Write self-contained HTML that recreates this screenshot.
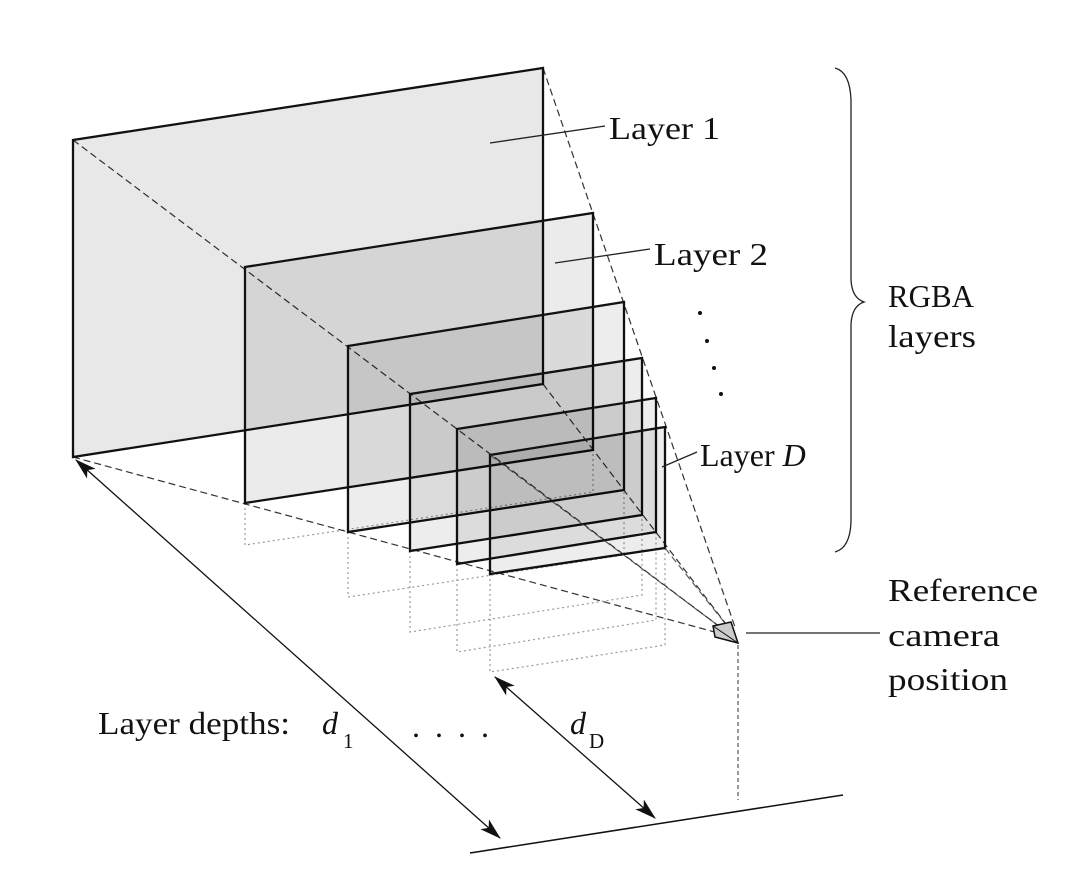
<!DOCTYPE html>
<html><head><meta charset="utf-8"><style>
html,body{margin:0;padding:0;background:#fff;}
svg{display:block;}
text{font-family:"Liberation Serif",serif;fill:#111;}
</style></head><body>
<svg width="1080" height="878" viewBox="0 0 1080 878" xmlns="http://www.w3.org/2000/svg">
<defs>
<marker id="ah" viewBox="0 0 20 12" refX="19" refY="6" markerWidth="22" markerHeight="13" markerUnits="userSpaceOnUse" orient="auto-start-reverse">
<path d="M0,0 L20,6 L0,12 L5,6 Z" fill="#111"/>
</marker>
</defs>
<g stroke="#999" stroke-width="1.2" stroke-dasharray="2,3" fill="none">
<polyline points="245,503 245,545 593,492 593,450"/>
<polyline points="348,532 348,597 624,555 624,490"/>
<polyline points="410,551 410,632 642,595 642,515"/>
<polyline points="457,564 457,652 656,620 656,532"/>
<polyline points="490,574 490,672 665,645 665,548"/>
</g>
<line x1="738" y1="645" x2="738" y2="800" stroke="#555" stroke-width="1.2" stroke-dasharray="4,3"/>
<g stroke="#333" stroke-width="1.2" stroke-dasharray="7,4" fill="none">
<line x1="73" y1="140" x2="728" y2="633"/>
<line x1="73" y1="457" x2="722" y2="634"/>
<line x1="543" y1="68" x2="736" y2="630"/>
<line x1="543" y1="384" x2="732" y2="632"/>
</g>
<g stroke="#111" stroke-width="2.3">
<polygon points="73,140 543,68 543,384 73,457" fill="rgba(0,0,0,0.09)"/>
<polygon points="245,267 593,213 593,450 245,503" fill="rgba(0,0,0,0.08)"/>
<polygon points="348,346 624,302 624,490 348,532" fill="rgba(0,0,0,0.07)"/>
<polygon points="410,394 642,358 642,515 410,551" fill="rgba(0,0,0,0.07)"/>
<polygon points="457,429 656,398 656,532 457,564" fill="rgba(0,0,0,0.07)"/>
<polygon points="490,455 665,427 665,548 490,574" fill="rgba(0,0,0,0.07)"/>
</g>
<g stroke="#333" stroke-width="1.2" stroke-dasharray="7,4" fill="none" opacity="0.8">
<line x1="490" y1="455" x2="728" y2="633"/>
<line x1="665" y1="548" x2="732" y2="632"/>
</g>
<polygon points="713,626 731,622 738,643 715,637" fill="#ccc" stroke="#111" stroke-width="1.5"/>
<line x1="713" y1="626" x2="738" y2="643" stroke="#111" stroke-width="1"/>
<line x1="746" y1="633" x2="880" y2="633" stroke="#222" stroke-width="1.3"/>
<g stroke="#222" stroke-width="1.3">
<line x1="490" y1="143" x2="605" y2="126"/>
<line x1="555" y1="263" x2="650" y2="249"/>
<line x1="662" y1="467" x2="697" y2="452"/>
</g>
<g fill="#111"><circle cx="700" cy="313" r="2"/><circle cx="707" cy="341" r="2"/><circle cx="714" cy="368" r="2"/><circle cx="721" cy="394" r="2"/></g>
<line x1="76" y1="460" x2="500" y2="838" stroke="#111" stroke-width="1.3" marker-start="url(#ah)" marker-end="url(#ah)"/>
<line x1="495" y1="677" x2="655" y2="818" stroke="#111" stroke-width="1.3" marker-start="url(#ah)" marker-end="url(#ah)"/>
<line x1="470" y1="853" x2="843" y2="795" stroke="#111" stroke-width="1.5"/>
<path d="M835,68 Q850,72 851,100 L851,280 Q852,298 864,302 Q852,306 851,324 L851,522 Q850,548 835,552" fill="none" stroke="#222" stroke-width="1.3"/>
<g font-size="32">
<text x="609" y="139" textLength="111" lengthAdjust="spacingAndGlyphs">Layer 1</text>
<text x="654" y="265" textLength="114" lengthAdjust="spacingAndGlyphs">Layer 2</text>
<text x="700" y="466">Layer <tspan font-style="italic">D</tspan></text>
<text x="888" y="307" textLength="86" lengthAdjust="spacingAndGlyphs">RGBA</text>
<text x="888" y="347" textLength="88" lengthAdjust="spacingAndGlyphs">layers</text>
<text x="888" y="601" textLength="150" lengthAdjust="spacingAndGlyphs">Reference</text>
<text x="888" y="646" textLength="112" lengthAdjust="spacingAndGlyphs">camera</text>
<text x="888" y="690" textLength="120" lengthAdjust="spacingAndGlyphs">position</text>
<text x="98" y="734" textLength="192" lengthAdjust="spacingAndGlyphs">Layer depths:</text>
<text x="322" y="734" font-style="italic">d</text>
<text x="343" y="748" font-size="21">1</text>
<text x="412" y="737" letter-spacing="15">....</text>
<text x="570" y="734" font-style="italic">d</text>
<text x="589" y="748" font-size="21">D</text>
</g>
</svg>
</body></html>
